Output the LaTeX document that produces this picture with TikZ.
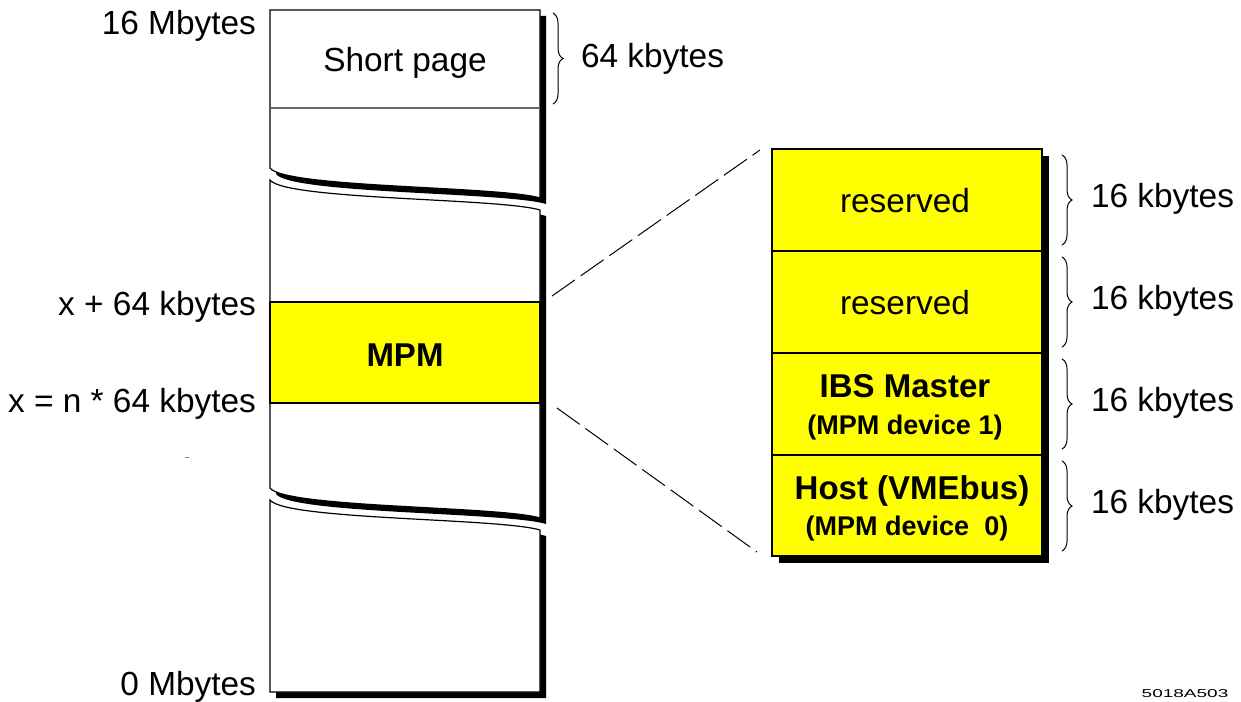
\documentclass[tikz,border=0pt]{standalone}
\usepackage{fontspec}
\setmainfont{Liberation Sans}
\usetikzlibrary{positioning}
\usetikzlibrary{decorations.pathreplacing}

\definecolor{mpmyellow}{RGB}{255,255,0}
\tikzset{
  lbl/.style={font=\fontsize{16.7}{20}\selectfont},
  big/.style={font=\fontsize{16.5}{20}\selectfont\bfseries},
  small/.style={font=\fontsize{13.5}{16}\selectfont\bfseries},
  brc/.style={decorate,decoration={brace,amplitude=5pt},line width=0.5pt},
  piece/.style={fill=white,draw,line width=0.6pt},
  zoomline/.style={dash pattern=on 14pt off 3.5pt,line width=0.5pt},
}

\begin{document}
\begin{tikzpicture}[x=0.5pt,y=-0.5pt]
  \useasboundingbox (0,0) rectangle (1241,701);

  % shadows of the three pieces
  \begin{scope}[shift={(6,6)}]
    \fill (270,10) -- (540,10) -- (540,198) .. controls (500,186) and (285,188) .. (270,168) -- cycle;
    \fill (270,180) .. controls (285,200) and (500,198) .. (540,210) -- (540,518) .. controls (500,506) and (285,508) .. (270,488) -- cycle;
    \fill (270,500) .. controls (285,520) and (500,518) .. (540,530) -- (540,692) -- (270,692) -- cycle;
  \end{scope}

  % the pieces
  \draw[piece] (270,10) -- (540,10) -- (540,198) .. controls (500,186) and (285,188) .. (270,168) -- cycle;
  \draw[piece] (270,180) .. controls (285,200) and (500,198) .. (540,210) -- (540,518) .. controls (500,506) and (285,508) .. (270,488) -- cycle;
  \draw[piece] (270,500) .. controls (285,520) and (500,518) .. (540,530) -- (540,692) -- (270,692) -- cycle;
  \draw[gray!80!black,line width=0.6pt] (270,108) -- (540,108);
  \draw[fill=mpmyellow,line width=0.6pt] (270,302) rectangle (540,403);
  \draw[gray] (185,457) -- (189,457);

  \node[lbl,anchor=base] (short) at (405,72) {Short page};
  \node[big] (mpm) at (405,355) {MPM};
  \node[lbl,anchor=base east] (top) at (263,35) {16 Mbytes};
  \node[lbl,anchor=base east] (upper) at (263,315) {x + 64 kbytes};
  \node[lbl,anchor=base east] (lower) at (263,412) {x = n * 64 kbytes};
  \node[lbl,anchor=base east] (bottom) at (263,695) {0 Mbytes};

  % 64 kbytes brace
  \coordinate (pagetop) at (553,13);
  \coordinate (pagebot) at (553,104);
  \draw[brc] (pagetop) -- (pagebot);
  \node[lbl,anchor=base west] (pagesize) at (574,68) {64 kbytes};

  % expanded MPM
  \fill (779,156) rectangle (1049,563);
  \draw[fill=mpmyellow,line width=0.6pt] (772,149) rectangle (1042,556);
  \foreach \y in {251,353,455} {
    \draw[line width=0.6pt] (772,\y) -- (1042,\y);
  }
  \foreach \i in {0,...,3} {
    \coordinate (b\i) at (1062,155+102*\i);
    \coordinate (e\i) at (1062,245+102*\i);
    \draw[brc] (b\i) -- (e\i);
    \node[lbl,anchor=base west] (kb\i) at (1084,207+102*\i) {16 kbytes};
  }
  \node[lbl,anchor=base] (res1) at (905,212) {reserved};
  \node[lbl,anchor=base] (res2) at (905,314) {reserved};
  \node[big] (ibs) at (905,386) {IBS Master};
  \node[small] (dev1) at (905,428) {(MPM device 1)};
  \node[big] (host) at (912,491) {Host (VMEbus)};
  \node[small] (dev0) at (907,529) {(MPM device \ 0)};

  % zoom lines
  \coordinate (mpmup) at (552,296);
  \coordinate (mpmdn) at (557,408);
  \coordinate (boxup) at (760,150);
  \coordinate (boxdn) at (757,552);
  \draw[zoomline] (mpmup) -- (boxup);
  \draw[zoomline] (mpmdn) -- (boxdn);

  \node[font=\fontsize{9.5}{11}\selectfont] (fig) at (1185,694) {\scalebox{1}[0.6]{5018A503}};
\end{tikzpicture}
\end{document}
